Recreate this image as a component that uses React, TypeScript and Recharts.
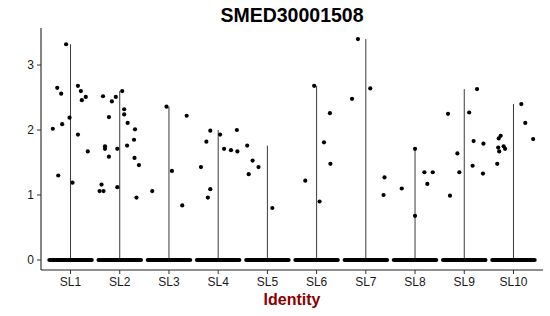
import React from 'react';
import { ScatterChart, Scatter, XAxis, YAxis, ReferenceLine } from 'recharts';

// identity classes on the x axis
const categories = ['SL1', 'SL2', 'SL3', 'SL4', 'SL5', 'SL6', 'SL7', 'SL8', 'SL9', 'SL10'];

// non-zero expression values per identity
const values: number[][] = [
  [3.32, 2.65, 2.56, 2.68, 2.6, 2.51, 2.46, 2.19, 2.09, 2.02, 1.93, 1.67, 1.3, 1.19],
  [2.6, 2.52, 2.51, 2.44, 2.32, 2.24, 2.2, 2.11, 2.01, 1.85, 1.76, 1.75, 1.71, 1.71, 1.59, 1.57, 1.46, 1.16, 1.06, 1.06, 1.12, 0.96],
  [2.36, 2.22, 1.37, 1.06, 0.84],
  [1.99, 1.93, 2.0, 1.82, 1.71, 1.69, 1.67, 1.43, 1.09, 0.96],
  [1.76, 1.53, 1.43, 1.32, 0.8],
  [2.68, 2.26, 1.81, 1.48, 1.22, 0.9],
  [3.4, 2.64, 2.48, 1.27, 1.0],
  [1.71, 1.1, 1.35, 1.35, 1.17, 0.68],
  [2.63, 2.25, 2.27, 1.83, 1.79, 1.64, 1.45, 1.35, 1.33, 0.99],
  [2.4, 2.11, 1.86, 1.91, 1.87, 1.75, 1.71, 1.67, 1.73, 1.48],
];

// horizontal jitter of each point (category units), same order as values
const jitter: number[][] = [
  [-0.09, -0.27, -0.19, 0.15, 0.21, 0.31, 0.23, -0.02, -0.17, -0.36, 0.15, 0.35, -0.25, 0.04],
  [0.05, -0.34, -0.08, -0.16, 0.09, 0.09, -0.22, 0.16, 0.31, 0.29, 0.15, -0.3, -0.3, -0.05, -0.22, 0.3, 0.39, -0.37, -0.41, -0.33, -0.05, 0.34],
  [-0.05, 0.36, 0.06, -0.34, 0.27],
  [-0.16, 0.04, 0.38, -0.24, 0.12, 0.26, 0.39, -0.35, -0.16, -0.21],
  [-0.41, -0.3, -0.18, -0.38, 0.1],
  [-0.05, 0.27, 0.15, 0.28, -0.23, 0.06],
  [-0.16, 0.09, -0.28, 0.38, 0.36],
  [0.0, -0.27, 0.19, 0.36, 0.25, 0.0],
  [0.26, -0.33, 0.1, 0.19, 0.39, -0.14, 0.17, -0.1, 0.38, -0.29],
  [0.16, 0.24, 0.4, -0.26, -0.3, -0.2, -0.17, -0.29, -0.31, -0.33],
];

// half width of the dense band of zero-valued cells
const zeroSpread = 0.43;

const points = values.flatMap((vals, i) =>
  vals.map((v, j) => ({ x: i + 1 + jitter[i][j], y: v }))
);

const Dot = (props: any) => <circle cx={props.cx} cy={props.cy} r={2.1} fill="#000" />;

export default function App() {
  const tickStyle = { fill: '#1a1a1a', fontSize: 12, fontFamily: 'Liberation Sans, Arial, sans-serif' };
  return (
    <div style={{ position: 'fixed', left: 0, top: 0, width: 550, height: 316, background: '#fff' }}>
      <div
        style={{
          position: 'absolute', left: 41, width: 502, top: 5.5, textAlign: 'center',
          fontFamily: 'Liberation Sans, Arial, sans-serif', fontWeight: 'bold', fontSize: 19.5, lineHeight: 1, color: '#000',
        }}
      >
        SMED30001508
      </div>
      <ScatterChart width={550} height={316} margin={{ top: 28, right: 7, bottom: 0, left: 0 }}>
        <XAxis
          type="number"
          dataKey="x"
          domain={[0.4, 10.6]}
          ticks={[1, 2, 3, 4, 5, 6, 7, 8, 9, 10]}
          tickFormatter={(v: number) => categories[v - 1]}
          height={46}
          tickSize={4}
          tickMargin={3}
          tick={tickStyle}
          axisLine={{ stroke: '#222', strokeWidth: 1.1 }}
          tickLine={{ stroke: '#333' }}
          allowDataOverflow
        />
        <YAxis
          type="number"
          dataKey="y"
          domain={[-0.154, 3.57]}
          ticks={[0, 1, 2, 3]}
          width={41}
          tickSize={4}
          tickMargin={3}
          tick={tickStyle}
          axisLine={{ stroke: '#222', strokeWidth: 1.1 }}
          tickLine={{ stroke: '#333' }}
          allowDataOverflow
        />
        {values.map((vals, i) => (
          <ReferenceLine
            key={`v-${i}`}
            segment={[{ x: i + 1, y: 0 }, { x: i + 1, y: Math.max(...vals) }]}
            stroke="#3a3a3a"
            strokeWidth={1}
          />
        ))}
        {categories.map((c, i) => (
          <ReferenceLine
            key={`z-${c}`}
            segment={[{ x: i + 1 - zeroSpread, y: 0 }, { x: i + 1 + zeroSpread, y: 0 }]}
            stroke="#000"
            strokeWidth={4.2}
            strokeLinecap="round"
          />
        ))}
        <Scatter data={points} shape={Dot} isAnimationActive={false} />
      </ScatterChart>
      <div
        style={{
          position: 'absolute', left: 41, width: 502, top: 291.5, textAlign: 'center',
          fontFamily: 'Liberation Sans, Arial, sans-serif', fontWeight: 'bold', fontSize: 16, lineHeight: 1, color: '#8B0000',
        }}
      >
        Identity
      </div>
    </div>
  );
}
